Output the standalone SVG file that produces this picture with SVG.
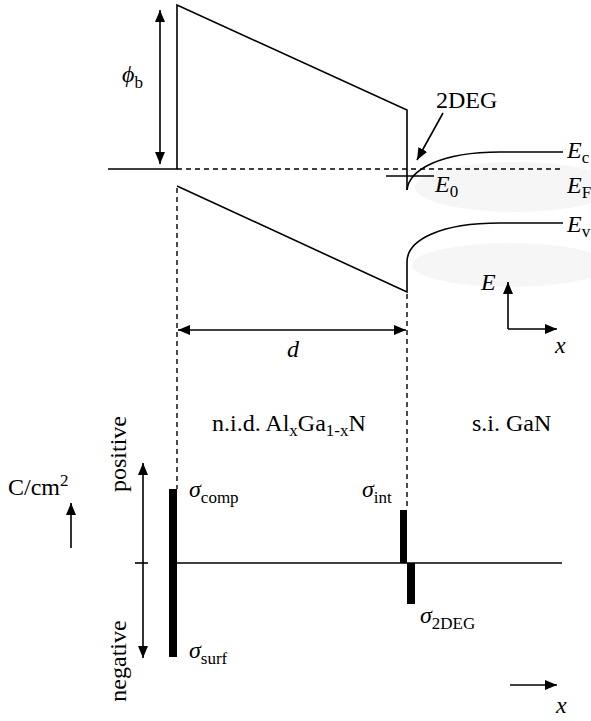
<svg xmlns="http://www.w3.org/2000/svg" width="591" height="721" viewBox="0 0 591 721">
<defs>
<marker id="ah" viewBox="0 0 12 10" refX="12" refY="5" markerWidth="12" markerHeight="10" markerUnits="userSpaceOnUse" orient="auto-start-reverse">
<path d="M0,0 L12,5 L0,10 Z" fill="#000"/>
</marker>
</defs>
<style>
.ln{stroke:#000;stroke-width:1.6;fill:none}
.ds{stroke:#000;stroke-width:1.4;fill:none;stroke-dasharray:5,4}
.t{font-family:"Liberation Serif","Times New Roman",serif;font-size:24px;fill:#000}
.i{font-style:italic}
.s{font-size:17px;font-style:normal}
.blob{fill:#f6f6f6}
</style>
<rect width="591" height="721" fill="#fff"/>
<g id="shading">
<ellipse class="blob" cx="515" cy="187" rx="100" ry="25"/>
<ellipse class="blob" cx="510" cy="265" rx="98" ry="22"/>
</g>
<g id="bands">
<path class="ln" d="M108,169 L177,169 L177,5 L407,110 L407,190"/>
<path class="ln" d="M407,190 C409,170 440,152 500,152 L563,152"/>
<path class="ds" d="M177,169 L563,169"/>
<path class="ln" d="M386,176 L434,176"/>
<path class="ln" d="M177,186 L407,292 L407,262 C407,240 440,223 500,223 L563,223"/>
<path class="ds" d="M177,188 L177,489"/>
<path class="ds" d="M407,294 L407,510"/>
</g>
<g id="connectors">
<line class="ln" x1="160" y1="10" x2="160" y2="164" marker-start="url(#ah)" marker-end="url(#ah)"/>
<line class="ln" x1="443" y1="113" x2="417" y2="160" marker-end="url(#ah)"/>
<line class="ln" x1="178" y1="330" x2="406" y2="330" marker-start="url(#ah)" marker-end="url(#ah)"/>
<line class="ln" x1="508" y1="329" x2="508" y2="282" marker-end="url(#ah)"/>
<line class="ln" x1="508" y1="329" x2="557" y2="329" marker-end="url(#ah)"/>
<line class="ln" x1="143" y1="463" x2="143" y2="658" marker-start="url(#ah)" marker-end="url(#ah)"/>
<line class="ln" x1="71" y1="548" x2="71" y2="503" marker-end="url(#ah)"/>
<line class="ln" x1="510" y1="685" x2="557" y2="685" marker-end="url(#ah)"/>
</g>
<g id="charge">
<line class="ln" x1="135" y1="563" x2="148" y2="563"/>
<line class="ln" x1="173" y1="563" x2="562" y2="563"/>
<rect x="169" y="489" width="8" height="168" fill="#000"/>
<rect x="400" y="510" width="7" height="53" fill="#000"/>
<rect x="407" y="563" width="8" height="41" fill="#000"/>
</g>
<g id="labels">
<text class="t i" x="122" y="82">ϕ<tspan class="s" dy="6">b</tspan></text>
<text class="t" x="436" y="108">2DEG</text>
<text class="t i" x="567" y="158">E<tspan class="s" dy="5">c</tspan></text>
<text class="t i" x="567" y="193">E<tspan class="s" dy="5">F</tspan></text>
<text class="t i" x="567" y="232">E<tspan class="s" dy="5">v</tspan></text>
<text class="t i" x="435" y="192">E<tspan class="s" dy="5">0</tspan></text>
<text class="t i" x="481" y="290">E</text>
<text class="t i" x="555" y="353">x</text>
<text class="t i" x="287" y="357">d</text>
<text class="t" x="212" y="431">n.i.d. Al<tspan class="s" dy="5">x</tspan><tspan dy="-5">Ga</tspan><tspan class="s" dy="5">1-x</tspan><tspan dy="-5">N</tspan></text>
<text class="t" x="472" y="431">s.i. GaN</text>
<text class="t" x="8" y="495">C/cm<tspan class="s" dy="-9">2</tspan></text>
<text class="t" transform="translate(126,454) rotate(-90)" text-anchor="middle">positive</text>
<text class="t" transform="translate(126,661) rotate(-90)" text-anchor="middle">negative</text>
<text class="t i" x="189" y="497">σ<tspan class="s" dy="6">comp</tspan></text>
<text class="t i" x="189" y="658">σ<tspan class="s" dy="6">surf</tspan></text>
<text class="t i" x="362" y="497">σ<tspan class="s" dy="6">int</tspan></text>
<text class="t i" x="420" y="623">σ<tspan class="s" dy="6">2DEG</tspan></text>
<text class="t i" x="556" y="713">x</text>
</g>
</svg>
